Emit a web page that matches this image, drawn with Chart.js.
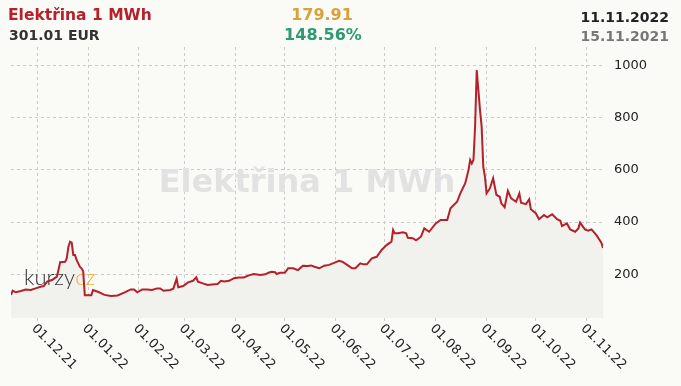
<!DOCTYPE html>
<html>
<head>
<meta charset="utf-8">
<script src="https://cdn.jsdelivr.net/npm/chart.js@4/dist/chart.umd.min.js"></script>
<style>
  html, body { margin: 0; padding: 0; background: #fafaf7; }
  #wrap { position: relative; width: 681px; height: 386px; overflow: hidden; }
  canvas { position: absolute; left: 0; top: 0; }
  .h { position: absolute; font-family: "DejaVu Sans", sans-serif; line-height: 1; white-space: nowrap; }
</style>
</head>
<body>
<div id="wrap">
  <canvas id="c" width="681" height="386"></canvas>
  <div class="h" id="title" style="left:8px; top:8px; font-size:15.5px; font-weight:bold; color:#b5202a;"></div>
  <div class="h" id="last" style="left:9px; top:28px; font-size:14px; font-weight:bold; color:#333;"></div>
  <div class="h" id="chg" style="left:322px; top:7px; font-size:16px; font-weight:bold; color:#dca03a; transform:translateX(-50%);"></div>
  <div class="h" id="chgPct" style="left:323px; top:27px; font-size:16px; font-weight:bold; color:#2e9a73; transform:translateX(-50%);"></div>
  <div class="h" id="endD" style="right:12px; top:10px; font-size:14px; font-weight:bold; color:#222;"></div>
  <div class="h" id="startD" style="right:12px; top:29px; font-size:14px; font-weight:bold; color:#777;"></div>
</div>
<script>
// ---- data ----
const titleText = 'Elektřina 1 MWh';
const lastPrice = '301.01 EUR';
const changeAbs = '179.91';
const changePct = '148.56%';
const endDate = '11.11.2022';
const startDate = '15.11.2021';

const dates = [
  '2021-11-15','2021-11-16','2021-11-18','2021-11-21','2021-11-24','2021-11-27','2021-11-30',
  '2021-12-03','2021-12-05','2021-12-07','2021-12-10','2021-12-13','2021-12-15','2021-12-18',
  '2021-12-19','2021-12-20','2021-12-21','2021-12-22','2021-12-23','2021-12-24','2021-12-25',
  '2021-12-27','2021-12-28','2021-12-29','2021-12-30',
  '2022-01-03','2022-01-04','2022-01-07','2022-01-11','2022-01-15','2022-01-19','2022-01-23',
  '2022-01-27','2022-01-29','2022-01-31',
  '2022-02-03','2022-02-06','2022-02-09','2022-02-12','2022-02-14','2022-02-16','2022-02-20',
  '2022-02-22','2022-02-24','2022-02-25','2022-02-28',
  '2022-03-03','2022-03-06','2022-03-08','2022-03-09','2022-03-12','2022-03-15','2022-03-19',
  '2022-03-21','2022-03-23','2022-03-25','2022-03-28','2022-03-31',
  '2022-04-03','2022-04-06','2022-04-09','2022-04-12','2022-04-16','2022-04-19','2022-04-21',
  '2022-04-23','2022-04-25','2022-04-26','2022-04-28',
  '2022-05-01','2022-05-03','2022-05-06','2022-05-09','2022-05-12','2022-05-15','2022-05-17',
  '2022-05-19','2022-05-22','2022-05-25','2022-05-28','2022-05-31',
  '2022-06-03','2022-06-05','2022-06-08','2022-06-11','2022-06-13','2022-06-16','2022-06-18',
  '2022-06-20','2022-06-23','2022-06-26','2022-06-29',
  '2022-07-02','2022-07-05','2022-07-06','2022-07-07','2022-07-09','2022-07-12','2022-07-14',
  '2022-07-15','2022-07-18','2022-07-20','2022-07-23','2022-07-25','2022-07-28',
  '2022-08-01','2022-08-04','2022-08-08','2022-08-10','2022-08-14','2022-08-16','2022-08-19',
  '2022-08-21','2022-08-22','2022-08-23','2022-08-24','2022-08-25','2022-08-26','2022-08-27',
  '2022-08-28','2022-08-29','2022-08-30','2022-08-31',
  '2022-09-01','2022-09-03','2022-09-05','2022-09-07','2022-09-09','2022-09-10','2022-09-12',
  '2022-09-14','2022-09-16','2022-09-19','2022-09-21','2022-09-22','2022-09-25','2022-09-27',
  '2022-09-28',
  '2022-10-01','2022-10-03','2022-10-06','2022-10-08','2022-10-11','2022-10-14','2022-10-16',
  '2022-10-17','2022-10-20','2022-10-22','2022-10-25','2022-10-27','2022-10-28','2022-10-31',
  '2022-11-02','2022-11-04','2022-11-07','2022-11-10','2022-11-11'
];

const prices = [
  121,137,131,136,142,140,146,
  152,155,172,178,191,246,248,
  261,306,325,321,274,274,255,
  229,223,212,120,
  120,140,133,121,117,119,130,
  142,142,131,
  142,142,140,146,146,137,140,
  145,183,150,155,
  169,175,188,172,165,159,162,
  163,175,172,175,185,
  188,188,196,201,197,200,206,
  210,208,201,206,
  206,223,223,216,233,232,234,
  229,223,233,236,244,
  252,248,236,223,223,242,238,
  238,261,267,293,
  312,325,370,357,357,361,357,
  340,338,330,344,376,363,
  395,408,408,453,478,510,549,
  600,638,625,638,766,983,906,
  829,766,612,574,
  510,529,568,504,497,472,457,
  520,491,478,510,474,469,487,
  449,
  434,411,427,418,430,411,405,
  385,395,372,363,376,398,372,
  367,372,350,321,301
];

const tickLabels = ['01.12.21','01.01.22','01.02.22','01.03.22','01.04.22','01.05.22',
                    '01.06.22','01.07.22','01.08.22','01.09.22','01.10.22','01.11.22'];
const yTicks = [200, 400, 600, 800, 1000];

// ---- helpers ----
const DAY = 86400000;
const t0 = Date.UTC(2021, 10, 15);
function isoToDay(s) { const [y, m, d] = s.split('-').map(Number); return (Date.UTC(y, m - 1, d) - t0) / DAY; }
function lblToDay(s) { const [d, m, y] = s.split('.').map(Number); return (Date.UTC(2000 + y, m - 1, d) - t0) / DAY; }

const points = dates.map((d, i) => ({ x: isoToDay(d), y: prices[i] }));
const tickDays = tickLabels.map(lblToDay);
const xMax = isoToDay(dates[dates.length - 1]);

document.getElementById('title').textContent = titleText;
document.getElementById('last').textContent = lastPrice;
document.getElementById('chg').textContent = changeAbs;
document.getElementById('chgPct').textContent = changePct;
document.getElementById('endD').textContent = endDate;
document.getElementById('startD').textContent = startDate;

const watermark = {
  id: 'watermark',
  beforeDatasetsDraw(chart) {
    const { ctx, chartArea: a } = chart;
    ctx.save();
    ctx.font = 'bold 32px "DejaVu Sans", sans-serif';
    ctx.fillStyle = '#e2e2e2';
    ctx.textAlign = 'center';
    ctx.textBaseline = 'middle';
    ctx.fillText(titleText, (a.left + a.right) / 2, (a.top + a.bottom) / 2 + 1);
    ctx.font = '300 22px Lato, "Open Sans", sans-serif';
    ctx.textAlign = 'left';
    ctx.textBaseline = 'alphabetic';
    ctx.fillStyle = '#333';
    ctx.fillText('kurzy', 24, 285);
    const w = ctx.measureText('kurzy').width;
    ctx.fillStyle = '#f0ad3c';
    ctx.fillText('cz', 24 + w, 285);
    ctx.restore();
  }
};

const xLabels = {
  id: 'xLabels',
  afterDraw(chart) {
    const { ctx } = chart;
    const xs = chart.scales.x;
    ctx.save();
    ctx.font = '13px "DejaVu Sans", sans-serif';
    ctx.fillStyle = '#222';
    ctx.textAlign = 'left';
    ctx.textBaseline = 'top';
    tickLabels.forEach((lbl, i) => {
      const px = xs.getPixelForValue(tickDays[i]);
      ctx.save();
      ctx.translate(px + 1, 322);
      ctx.rotate(Math.PI / 4);
      ctx.fillText(lbl, 0, 0);
      ctx.restore();
    });
    ctx.restore();
  }
};

new Chart(document.getElementById('c'), {
  type: 'line',
  data: {
    datasets: [{
      data: points,
      borderColor: '#b5202a',
      borderWidth: 2,
      pointRadius: 0,
      tension: 0,
      fill: 'start',
      backgroundColor: '#f1f1ee'
    }]
  },
  options: {
    responsive: false,
    animation: false,
    events: [],
    layout: { padding: { left: 11, top: 47, right: 0, bottom: 0 } },
    plugins: {
      legend: { display: false },
      tooltip: { enabled: false },
      filler: { drawTime: 'beforeDatasetsDraw' }
    },
    scales: {
      x: {
        type: 'linear',
        min: 0,
        max: xMax,
        afterBuildTicks: s => { s.ticks = tickDays.map(v => ({ value: v })); },
        afterFit: s => { s.height = 68; },
        ticks: { display: false },
        grid: { color: '#cbcbcb', drawTicks: true, tickLength: 3, tickBorderDash: [3, 3] },
        border: { display: false, dash: [3, 3] }
      },
      y: {
        position: 'right',
        min: 32.5,
        max: 1071,
        afterBuildTicks: s => { s.ticks = yTicks.map(v => ({ value: v })); },
        afterFit: s => { s.width = 78; },
        ticks: {
          padding: 11, color: '#222', font: { family: 'DejaVu Sans', size: 13 },
          callback: v => String(v)
        },
        grid: { color: '#cbcbcb', drawTicks: false },
        border: { display: false, dash: [3, 3] }
      }
    }
  },
  plugins: [watermark, xLabels]
});
</script>
</body>
</html>
